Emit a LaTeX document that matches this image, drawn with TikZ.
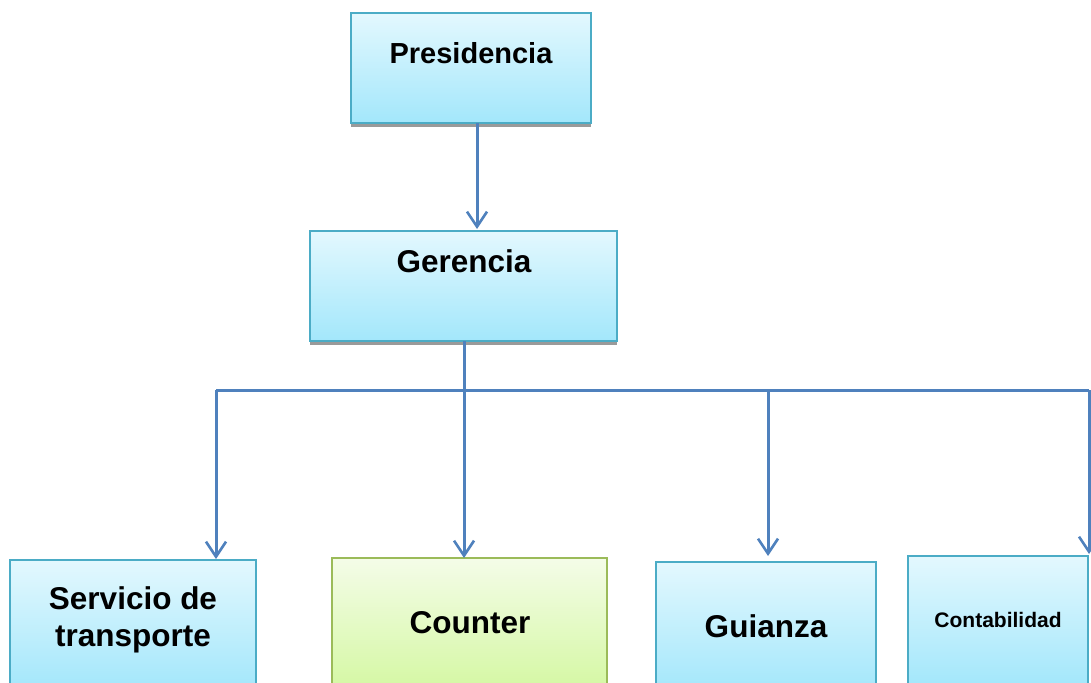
\documentclass[tikz,border=0pt]{standalone}
\usepackage{fontspec}
\setmainfont{Liberation Sans}
\usetikzlibrary{arrows.meta}
\definecolor{cyantop}{HTML}{E3F8FE}
\definecolor{cyanbot}{HTML}{A3E7FB}
\definecolor{cyanedge}{HTML}{4BACC6}
\definecolor{greentop}{HTML}{F4FCE8}
\definecolor{greenbot}{HTML}{D5F8A4}
\definecolor{greenedge}{HTML}{9BBB59}
\definecolor{linkblue}{HTML}{4F81BD}
\definecolor{shadowgrey}{HTML}{9A9A9A}
\tikzset{
  box/.style={rectangle, draw=cyanedge, line width=2pt, shading=axis,
    top color=cyantop, bottom color=cyanbot, inner sep=0pt},
  gbox/.style={rectangle, draw=greenedge, line width=2pt, shading=axis,
    top color=greentop, bottom color=greenbot, inner sep=0pt},
  shadowbox/.style={rectangle, fill=shadowgrey, draw=none, inner sep=0pt},
  lbl/.style={font=\bfseries\fontsize{31.5}{37}\selectfont, align=center, inner sep=0pt},
  slbl/.style={font=\bfseries\fontsize{21}{25}\selectfont, align=center, inner sep=0pt},
  link/.style={draw=linkblue, line width=3pt},
  arr/.style={link, -{Straight Barb[length=15pt,width=20pt,line width=2.6pt]}}
}
\begin{document}
\begin{tikzpicture}[x=1pt,y=-1pt]
\useasboundingbox (0,0) rectangle (1091,682);
\clip (0,0) rectangle (1091,682);
\fill[white] (0,0) rectangle (1091,682);
% shadows
\node[shadowbox, minimum width=240pt, minimum height=110pt] (presS) at (471,72) {};
\node[shadowbox, minimum width=307pt, minimum height=110pt] (gerS) at (463.5,290) {};
\node[shadowbox, minimum width=246pt, minimum height=130pt] (servS) at (133,629) {};
% boxes
\node[box, minimum width=240pt, minimum height=110pt] (pres) at (471,68) {};
\node[box, minimum width=307pt, minimum height=110pt] (ger) at (463.5,286) {};
\node[box, minimum width=246pt, minimum height=130pt] (serv) at (133,625) {};
\node[gbox, minimum width=275pt, minimum height=130pt] (count) at (469.5,623) {};
\node[box, minimum width=220pt, minimum height=130pt] (guia) at (766,627) {};
\node[box, minimum width=180pt, minimum height=130pt] (cont) at (998,621) {};
% labels
\node[lbl, font=\bfseries\fontsize{29}{35}\selectfont] (presT) at (471,53) {Presidencia};
\node[lbl] (gerT) at (464,261) {Gerencia};
\node[lbl] (servT) at (133,620) {Servicio de\\transporte};
\node[lbl] (countT) at (470,623) {Counter};
\node[lbl] (guiaT) at (766,626) {Guianza};
\node[slbl] (contT) at (998,620) {Contabilidad};
% connectors
\coordinate (presB) at (477,123);
\coordinate (gerTop) at (477,229);
\coordinate (gerB) at (464,341);
\coordinate (busL) at (216,390);
\coordinate (busR) at (1089,390);
\coordinate (busG) at (768,390);
\coordinate (servTop) at (216,559);
\coordinate (countTop) at (464,558);
\coordinate (guiaTop) at (768,556);
\coordinate (contTop) at (1089,554);
\draw[arr] (presB) -- (gerTop);
\draw[arr] (gerB) -- (countTop);
\draw[link] (busL) -- (busR);
\draw[arr] (busL) -- (servTop);
\draw[arr] (busG) -- (guiaTop);
\draw[arr] (busR) -- (contTop);
\end{tikzpicture}
\end{document}
